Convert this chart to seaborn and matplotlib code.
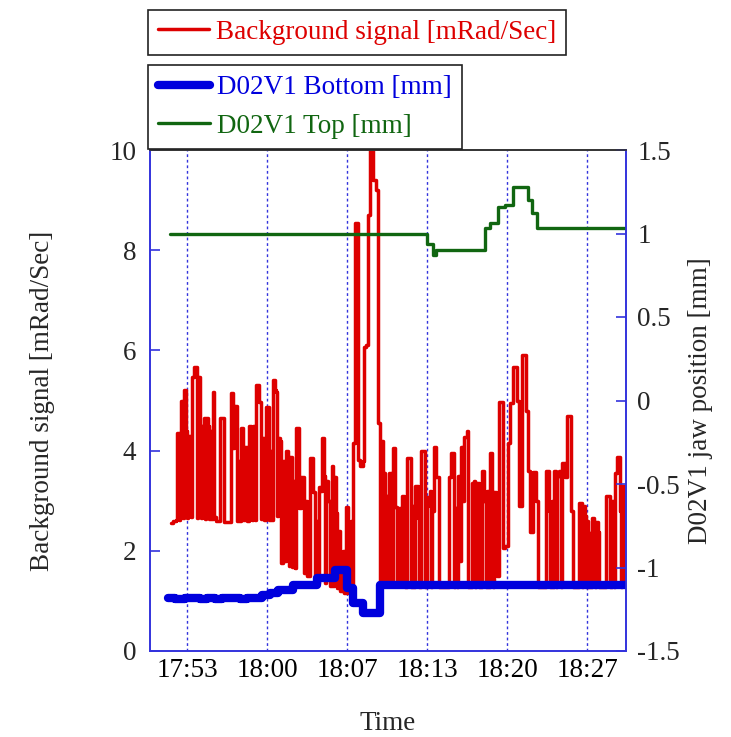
import matplotlib
matplotlib.use("Agg")
import matplotlib.pyplot as plt
import seaborn as sns
import pandas as pd

# ---- data (time in seconds after 17:50:00) ----
red_t = [120, 130, 145, 150, 160, 165, 170, 180, 185, 195, 200, 205, 215, 220, 225, 235, 245, 250, 255,
         265, 270, 275, 285, 290, 295, 305, 310, 315, 320, 330, 335, 345, 365, 385, 410, 420, 430, 435,
         450, 455, 460, 470, 480, 490, 500, 510, 520, 525, 530, 540, 545, 555, 560, 570, 575, 585, 595,
         605, 610, 620, 625, 630, 640, 645, 650, 655, 665, 670, 680, 690, 695, 705, 710, 715, 725, 735,
         740, 745, 755, 760, 770, 780, 785, 795, 800, 815, 825, 830, 840, 850, 855, 860, 870, 875, 885,
         890, 895, 905, 915, 925, 930, 935, 945, 950, 960, 965, 980, 985, 995, 1005, 1020, 1025, 1030,
         1040, 1055, 1065, 1080, 1085, 1095, 1105, 1115, 1130, 1145, 1155, 1165, 1175, 1180, 1190,
         1195, 1205, 1210, 1220, 1225, 1230, 1240, 1250, 1260, 1265, 1275, 1285, 1290, 1300, 1315,
         1320, 1330, 1335, 1340, 1350, 1355, 1360, 1370, 1385, 1390, 1400, 1405, 1415, 1420, 1425,
         1435, 1445, 1455, 1460, 1510, 1520, 1530, 1535, 1540, 1550, 1555, 1565, 1570, 1580, 1585,
         1600, 1605, 1625, 1635, 1640, 1645, 1655, 1660, 1665, 1670, 1675, 1685, 1695, 1700, 1705,
         1715, 1725, 1730, 1735, 1745, 1750, 1760, 1775, 1780, 1790, 1800, 1805, 1815, 1825, 1830,
         1845, 1850, 1860, 1870, 1875, 1890, 1895, 1905, 1915, 1925, 1930, 1940, 1945, 1955, 1995,
         2005, 2010, 2015, 2025, 2030, 2035, 2045, 2050, 2060, 2065, 2070, 2075, 2085, 2090, 2100,
         2115, 2120, 2130, 2160, 2170, 2175, 2180, 2190, 2195, 2200, 2205, 2215, 2220, 2225, 2235,
         2240, 2245, 2255, 2260, 2295, 2310, 2315, 2325, 2335, 2340, 2350, 2360, 2365, 2370, 2375,
         2385, 2390, 2395]
red_v = [2.55, 2.6, 2.62, 4.35, 2.62, 4.35, 5.0, 2.65, 5.2, 4.4, 2.65, 4.3, 4.3, 2.68, 5.47, 5.67, 5.67,
         2.66, 5.47, 4.5, 2.65, 4.5, 4.65, 2.64, 4.65, 4.5, 2.63, 4.4, 2.63, 5.17, 2.67, 2.6, 4.65, 2.57,
         2.58, 5.15, 4.05, 4.9, 2.6, 3.8, 2.6, 4.45, 2.62, 4.07, 2.6, 4.5, 4.4, 2.62, 4.5, 2.62, 5.3, 5.3,
         4.97, 2.63, 4.25, 2.62, 4.87, 4.87, 2.62, 4.0, 2.62, 5.4, 5.2, 5.17, 2.7, 4.25, 4.2, 1.75, 3.8,
         1.8, 4.0, 3.87, 1.7, 3.87, 1.68, 3.4, 1.65, 4.45, 4.45, 2.85, 3.47, 3.47, 1.55, 3.0, 1.5, 3.85,
         3.85, 3.17, 1.4, 2.6, 1.35, 3.27, 3.2, 4.25, 3.5, 1.35, 3.4, 3.0, 1.3, 3.7, 1.3, 3.47, 2.75,
         1.25, 2.4, 1.2, 2.0, 1.15, 2.87, 1.15, 2.6, 1.15, 4.15, 8.55, 3.82, 3.7, 3.8, 6.07, 6.1, 8.7,
         10.3, 9.4, 9.2, 4.55, 1.3, 4.2, 3.55, 1.3, 3.1, 1.3, 3.55, 3.55, 1.3, 4.05, 2.87, 1.3, 2.85, 1.3,
         3.1, 3.0, 1.28, 3.85, 3.85, 1.28, 2.9, 1.28, 3.3, 3.3, 2.65, 1.28, 4.0, 4.0, 1.28, 2.9, 3.07,
         3.2, 1.28, 2.8, 4.07, 3.47, 3.47, 1.28, 3.47, 3.95, 3.95, 1.28, 2.85, 1.28, 3.5, 1.8, 4.07, 3.0,
         4.27, 4.4, 1.28, 3.35, 3.4, 1.28, 3.35, 3.35, 1.28, 3.15, 1.28, 3.6, 3.0, 1.28, 3.2, 1.28, 3.95,
         3.17, 1.28, 3.17, 3.07, 1.5, 4.97, 4.97, 2.05, 2.1, 2.1, 4.15, 4.95, 4.95, 5.67, 5.67, 5.0, 2.9,
         2.9, 5.9, 5.9, 4.8, 3.6, 2.37, 2.37, 3.57, 3.57, 3.0, 1.28, 3.6, 3.6, 2.8, 1.28, 3.0, 1.28, 3.6,
         1.28, 3.5, 3.6, 3.5, 1.28, 3.75, 3.75, 3.47, 4.7, 4.7, 2.8, 1.28, 2.95, 2.95, 1.28, 2.9, 2.7,
         1.28, 2.6, 1.28, 2.35, 1.28, 2.65, 2.57, 1.28, 2.57, 2.37, 1.28, 3.1, 3.1, 1.28, 3.0, 1.28,
         3.55, 3.87, 3.87, 2.8, 1.28, 3.3, 3.3, 1.28, 1.28]

bottom_t = [105, 140, 190, 265, 300, 340, 375, 465, 500, 575, 615, 655, 730, 850, 940, 1000, 1030,
            1080, 1165, 2395]
bottom_v = [-1.18, -1.19, -1.18, -1.19, -1.18, -1.19, -1.18, -1.19, -1.18, -1.165, -1.15, -1.135,
            -1.105, -1.06, -1.015, -1.12, -1.21, -1.27, -1.105, -1.105]

top_t = [115, 1400, 1430, 1445, 1690, 1715, 1755, 1790, 1830, 1905, 1925, 1950, 2395]
top_v = [1.0, 0.94, 0.87, 0.90, 1.03, 1.06, 1.16, 1.17, 1.28, 1.2, 1.12, 1.03, 1.03]

tick_pos = [200, 600, 1000, 1400, 1800, 2200]
tick_labels = ["17:53", "18:00", "18:07", "18:13", "18:20", "18:27"]

red_label = "Background signal [mRad/Sec]"
bottom_label = "D02V1 Bottom [mm]"
top_label = "D02V1 Top [mm]"
right_label = "D02V1 jaw position [mm]"

# ---- style ----
sns.set_style("white")
plt.rcParams['font.family'] = ['Liberation Serif', 'DejaVu Serif']
FS = 19.5

RED = "#dd0000"
BLUE = "#0000dd"
GREEN = "#116611"
AXBLUE = "#3333dd"

fig = plt.figure(figsize=(7.31, 7.37), dpi=100)
ax = fig.add_axes([150/731, 1 - 651/737, (626-150)/731, (651-150)/737])
ax2 = ax.twinx()

df_red = pd.DataFrame({"t": red_t, "v": red_v})
df_bot = pd.DataFrame({"t": bottom_t, "v": bottom_v})
df_top = pd.DataFrame({"t": top_t, "v": top_v})

sns.lineplot(data=df_red, x="t", y="v", ax=ax, color=RED, lw=2.5, drawstyle="steps-post",
             estimator=None, sort=False, legend=False)
sns.lineplot(data=df_bot, x="t", y="v", ax=ax2, color=BLUE, lw=6.0, drawstyle="steps-post",
             estimator=None, sort=False, legend=False)
sns.lineplot(data=df_top, x="t", y="v", ax=ax2, color=GREEN, lw=2.4, drawstyle="steps-post",
             estimator=None, sort=False, legend=False)

ax.set_xlim(15, 2395)
ax.set_ylim(0, 10)
ax2.set_ylim(-1.5, 1.5)

ax.set_xticks(tick_pos)
ax.set_xticklabels(tick_labels)
ax.set_yticks([0, 2, 4, 6, 8, 10])
ax.set_yticklabels(["0", "2", "4", "6", "8", "10"])
ax2.set_yticks([-1.5, -1, -0.5, 0, 0.5, 1, 1.5])
ax2.set_yticklabels(["-1.5", "-1", "-0.5", "0", "0.5", "1", "1.5"])

ax.xaxis.grid(True, color=AXBLUE, linestyle=(0, (2, 2)), lw=1.0)
ax.yaxis.grid(False)
ax2.grid(False)

ax.tick_params(axis="x", length=0, pad=5, labelsize=FS, colors="black")
ax.tick_params(axis="y", direction="in", length=7, width=1.2, color=AXBLUE, labelsize=FS, pad=10)
ax2.tick_params(axis="y", direction="in", length=7, width=1.2, color=AXBLUE, labelsize=FS, pad=8)

for a in (ax, ax2):
    for s in ("left", "right", "bottom"):
        a.spines[s].set_color(AXBLUE)
        a.spines[s].set_linewidth(1.2)
    a.spines["top"].set_color("#333333")
    a.spines["top"].set_linewidth(1.2)

ax.set_xlabel("Time", fontsize=FS)
ax.set_ylabel(red_label, fontsize=FS)
ax2.set_ylabel(right_label, fontsize=FS)
ax.xaxis.set_label_coords(0.5, -0.12)
ax.yaxis.set_label_coords(-0.2, 0.5)
ax2.yaxis.set_label_coords(1.13, 0.5)

# ---- legends ----
h_red = ax.get_lines()[0]
h_bot, h_top = ax2.get_lines()[0], ax2.get_lines()[1]

leg1 = fig.legend([h_red], [red_label], loc="upper left", bbox_to_anchor=(148/731, 1 - 10/737),
                  frameon=True, fancybox=False, edgecolor="#222222", framealpha=1,
                  fontsize=FS, handlelength=1.9, handletextpad=0.25, borderpad=0.36,
                  borderaxespad=0)
leg1.get_frame().set_linewidth(1.2)
for t in leg1.get_texts():
    t.set_color(RED)

leg2 = fig.legend([h_bot, h_top], [bottom_label, top_label], loc="upper left",
                  bbox_to_anchor=(148/731, 1 - 65/737),
                  frameon=True, fancybox=False, edgecolor="#222222", framealpha=1,
                  fontsize=FS, handlelength=1.9, handletextpad=0.25, borderpad=0.38,
                  labelspacing=0.5, borderaxespad=0)
leg2.get_frame().set_linewidth(1.2)
leg2.get_texts()[0].set_color(BLUE)
leg2.get_texts()[1].set_color(GREEN)

fig.savefig("out.png", dpi=100)
